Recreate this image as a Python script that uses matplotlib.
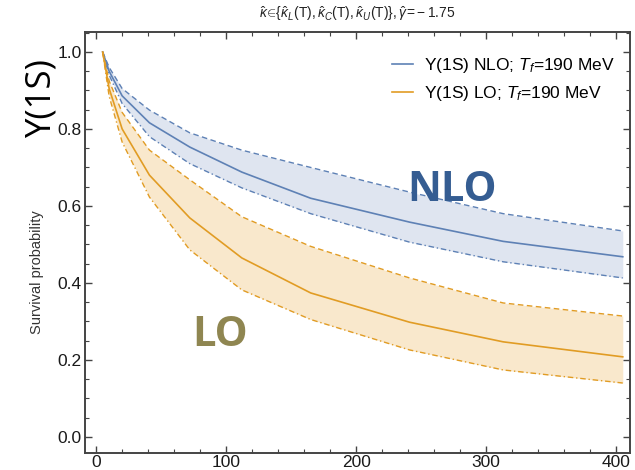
import numpy as np
import matplotlib.pyplot as plt
from matplotlib.ticker import MultipleLocator

# proper time (fm/c) and survival probabilities
t = [5, 10, 20, 41, 72, 112, 165, 241, 313, 405]

nlo_mid = [1.0, 0.950, 0.886, 0.816, 0.753, 0.688, 0.620, 0.558, 0.508, 0.468]
nlo_up  = [1.0, 0.960, 0.905, 0.849, 0.790, 0.745, 0.700, 0.636, 0.580, 0.535]
nlo_low = [1.0, 0.940, 0.866, 0.780, 0.710, 0.647, 0.580, 0.506, 0.455, 0.413]

lo_mid = [1.0, 0.905, 0.800, 0.680, 0.569, 0.465, 0.374, 0.298, 0.247, 0.208]
lo_up  = [1.0, 0.925, 0.843, 0.745, 0.668, 0.572, 0.495, 0.413, 0.348, 0.314]
lo_low = [1.0, 0.885, 0.766, 0.623, 0.486, 0.382, 0.305, 0.226, 0.174, 0.140]

title = r'$\hat{\kappa}\!\in\!\{\hat{\kappa}_L(\mathrm{T}),\hat{\kappa}_C(\mathrm{T}),\hat{\kappa}_U(\mathrm{T})\},\hat{\gamma}\!=\!-1.75$'
labels = ['Υ(1S) NLO; $T_f$=190 MeV', 'Υ(1S) LO; $T_f$=190 MeV']

blue = '#5e81b5'
orange = '#e19c24'

plt.rcParams['font.family'] = ['Liberation Sans', 'DejaVu Sans']
plt.rcParams['mathtext.fontset'] = 'custom'
plt.rcParams['mathtext.rm'] = 'Liberation Sans'
plt.rcParams['mathtext.it'] = 'Liberation Sans:italic'

fig = plt.figure(figsize=(6.35, 4.7), dpi=100)
ax = fig.add_axes([0.134, 0.036, 0.858, 0.896])

ax.fill_between(t, nlo_low, nlo_up, color='#dfe5f0', lw=0)
ax.fill_between(t, lo_low, lo_up, color='#f9e8cc', lw=0)

ax.plot(t, nlo_mid, color=blue, lw=1.2, label=labels[0])
ax.plot(t, nlo_up, color=blue, lw=1.0, ls=(0, (4, 2.5)))
ax.plot(t, nlo_low, color=blue, lw=1.0, ls=(0, (4, 2, 1, 2)))

ax.plot(t, lo_mid, color=orange, lw=1.2, label=labels[1])
ax.plot(t, lo_up, color=orange, lw=1.0, ls=(0, (4, 2.5)))
ax.plot(t, lo_low, color=orange, lw=1.0, ls=(0, (4, 2, 1, 2)))

ax.set_xlim(-8.5, 410.5)
ax.set_ylim(-0.042, 1.052)
ax.xaxis.set_major_locator(MultipleLocator(100))
ax.xaxis.set_minor_locator(MultipleLocator(20))
ax.yaxis.set_major_locator(MultipleLocator(0.2))
ax.yaxis.set_minor_locator(MultipleLocator(0.05))
ax.yaxis.set_major_formatter(plt.FuncFormatter(lambda v, p: '%.1f' % v))
ax.tick_params(which='both', direction='in', top=True, right=True,
               color='#444444', labelsize=12.5, labelcolor='#1a1a1a')
ax.tick_params(axis='x', pad=1.5)
ax.tick_params(axis='y', pad=2.5)
ax.tick_params(which='major', length=5, width=1)
ax.tick_params(which='minor', length=3, width=0.8)
for s in ax.spines.values():
    s.set_color('#444444')
    s.set_linewidth(1.4)

ax.legend(loc='upper right', bbox_to_anchor=(1.0, 0.98), frameon=False,
          fontsize=12.5, handlelength=1.2, handletextpad=0.6, labelspacing=0.5)

fig.text(0.563, 0.972, title, ha='center', va='center', fontsize=10, color='#222222')
fig.text(0.058, 0.42, 'Survival probability', rotation=90, ha='center', va='center',
         fontsize=10.5, color='#333333')
fig.text(0.065, 0.79, 'Υ(1S)', rotation=90, ha='center', va='center',
         fontsize=25, color='black', family=['Open Sans', 'DejaVu Sans'])

ax.text(0.712, 0.595, 'NLO', transform=fig.transFigure, ha='center', va='center',
        fontsize=30, fontweight='bold', color='#355d92', family=['Open Sans', 'DejaVu Sans'])
ax.text(0.347, 0.287, 'LO', transform=fig.transFigure, ha='center', va='center',
        fontsize=30, fontweight='bold', color='#8f8651', family=['Open Sans', 'DejaVu Sans'])

fig.savefig('out.png', dpi=100)
